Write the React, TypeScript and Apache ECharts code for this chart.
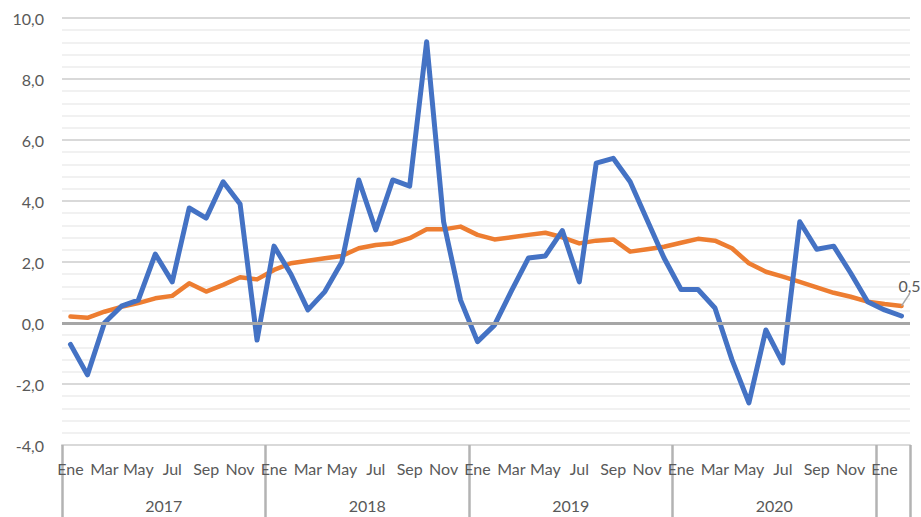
import React, { useEffect, useRef } from "react";
import * as echarts from "echarts";

const monthNames = ["Ene", "Feb", "Mar", "Abr", "May", "Jun", "Jul", "Ago", "Sep", "Oct", "Nov", "Dic"];
const years = ["2017", "2018", "2019", "2020", "2021"];

// Blue series (monthly values, Ene 2017 – Feb 2021)
const blueValues = [
  -0.7, -1.7, 0.0, 0.55, 0.75, 2.26, 1.35, 3.77, 3.44, 4.63, 3.9, -0.56,
  2.52, 1.6, 0.43, 1.03, 2.0, 4.69, 3.05, 4.69, 4.49, 9.22, 3.32, 0.75,
  -0.61, -0.07, 1.05, 2.13, 2.2, 3.03, 1.35, 5.24, 5.4, 4.63, 3.38, 2.13,
  1.1, 1.1, 0.49, -1.2, -2.62, -0.23, -1.31, 3.32, 2.42, 2.52, 1.64, 0.7,
  0.43, 0.23,
];

// Orange series
const orangeValues = [
  0.21, 0.17, 0.37, 0.53, 0.65, 0.81, 0.89, 1.3, 1.03, 1.25, 1.5, 1.43,
  1.74, 1.96, 2.04, 2.12, 2.2, 2.45, 2.56, 2.61, 2.78, 3.07, 3.07, 3.16,
  2.89, 2.74, 2.81, 2.89, 2.96, 2.81, 2.61, 2.7, 2.74, 2.34, 2.42, 2.5,
  2.63, 2.76, 2.7, 2.45, 1.96, 1.68, 1.52, 1.35, 1.17, 0.99, 0.86, 0.7,
  0.62, 0.56,
];

const lastLabel = "0,5";

const FONT = "Lato";
const TEXT = "#595959";
const FS = 16;

export default function App() {
  const ref = useRef<HTMLDivElement>(null);

  useEffect(() => {
    const chart = echarts.init(ref.current!, null, { renderer: "svg" });
    const cats = blueValues.map(
      (_, i) => `${monthNames[i % 12]}|${years[Math.floor(i / 12)]}`
    );

    const orangeData = orangeValues.map((v, i) =>
      i === orangeValues.length - 1
        ? {
            value: v,
            label: {
              show: true,
              formatter: lastLabel,
              position: "top",
              distance: 4,
              color: TEXT,
              fontFamily: FONT,
              fontSize: FS,
            },
          }
        : v
    );

    chart.setOption({
      animation: false,
      grid: { left: 62, right: 11, top: 18, bottom: 72, containLabel: false },
      xAxis: [
        {
          type: "category",
          data: cats,
          position: "bottom",
          axisLine: { show: true, onZero: false, lineStyle: { color: "#d9d9d9", width: 2 } },
          axisTick: { show: false },
          axisLabel: {
            interval: 1,
            margin: 15,
            color: TEXT,
            fontFamily: FONT,
            fontSize: FS,
            formatter: (v: string) => v.split("|")[0],
          },
        },
        {
          type: "category",
          data: cats,
          position: "bottom",
          axisLine: { show: false, onZero: false },
          axisTick: {
            show: true,
            length: 72,
            interval: (idx: number) => idx % 12 === 0,
            lineStyle: { color: "#b3b3b3", width: 2.5 },
          },
          axisLabel: {
            interval: 0,
            margin: 52,
            color: TEXT,
            fontFamily: FONT,
            fontSize: FS,
            padding: [0, 17, 0, 0],
            formatter: (v: string, idx: number) => (idx % 12 === 6 ? v.split("|")[1] : ""),
          },
        },
      ],
      yAxis: {
        type: "value",
        min: -4,
        max: 10,
        interval: 2,
        axisLine: { show: false },
        axisTick: { show: false },
        axisLabel: {
          margin: 18,
          color: TEXT,
          fontFamily: FONT,
          fontSize: FS,
          formatter: (v: number) => v.toFixed(1).replace(".", ","),
        },
        splitLine: { show: true, lineStyle: { color: "#d9d9d9", width: 2 } },
        minorTick: { show: false, splitNumber: 5 },
        minorSplitLine: { show: true, lineStyle: { color: "#ececec", width: 1.5 } },
      },
      series: [
        {
          type: "line",
          name: "orange",
          data: orangeData,
          z: 2,
          showSymbol: true,
          symbol: "circle",
          symbolSize: 0.01,
          lineStyle: { color: "#ed7d31", width: 4.5, join: "round", cap: "round" },
          itemStyle: { color: "#ed7d31" },
          label: { show: false },
          labelLine: { show: true, lineStyle: { color: "#a6a6a6", width: 1.5 } },
          labelLayout: { dx: 8, dy: -8 },
          markLine: {
            silent: true,
            symbol: "none",
            label: { show: false },
            lineStyle: { color: "#a6a6a6", width: 3, type: "solid" },
            data: [{ yAxis: 0 }],
          },
        },
        {
          type: "line",
          name: "blue",
          data: blueValues,
          z: 3,
          showSymbol: false,
          symbol: "none",
          lineStyle: { color: "#4472c4", width: 5, join: "round", cap: "round" },
          itemStyle: { color: "#4472c4" },
        },
      ],
    });

    return () => chart.dispose();
  }, []);

  return (
    <div
      ref={ref}
      style={{ position: "absolute", left: 0, top: 0, width: 921, height: 517 }}
    />
  );
}
